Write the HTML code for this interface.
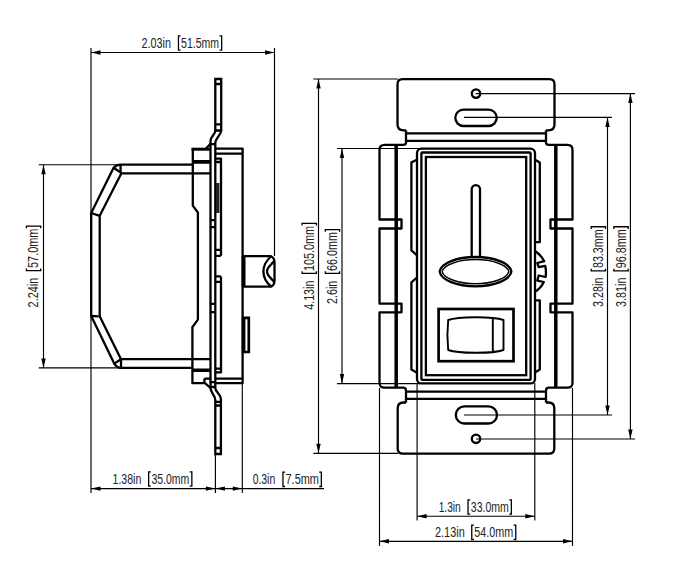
<!DOCTYPE html>
<html><head><meta charset="utf-8">
<style>
html,body{margin:0;padding:0;background:#fff;}
body{width:676px;height:582px;overflow:hidden;}
svg{display:block;}
text{font-family:"Liberation Sans",sans-serif;font-size:14px;fill:#222;}
</style></head><body>
<svg width="676" height="582" viewBox="0 0 676 582">
<rect width="676" height="582" fill="#fff"/>
<!-- DIMS START -->
<path d="M91,48V493 M274.5,48V256 M91,52.5H274.5 M38.7,164.7H121 M38.7,367.9H121 M43.5,164.7V367.9 M91,488.6H324 M215.4,454V493 M242.3,383V493 M313.4,79H398 M318.5,79V453.3 M313.4,453.3H398 M337,148.5H420 M342,148.5V383.6 M337,383.6H420 M475.7,93.6H635 M464,117.4H612 M476,439H635 M464,415H612 M630.4,93.6V439 M607.5,117.4V415 M417.1,383V520.6 M534.8,383V520.6 M417.1,516.2H534.8 M379.5,388V546 M572.5,388V546 M379.5,541.3H572.5" fill="none" stroke="#000" stroke-width="1.15"/>
<path d="M91,52.5L100.5,50.3V54.7Z M274.5,52.5L265.0,50.3V54.7Z M43.5,164.7L41.3,174.2H45.7Z M43.5,367.9L41.3,358.4H45.7Z M91,488.6L100.5,486.40000000000003V490.8Z M215.4,488.6L205.9,486.40000000000003V490.8Z M215.4,488.6L224.9,486.40000000000003V490.8Z M242.3,488.6L232.8,486.40000000000003V490.8Z M318.5,79L316.3,88.5H320.7Z M318.5,453.3L316.3,443.8H320.7Z M342,148.5L339.8,158.0H344.2Z M342,383.6L339.8,374.1H344.2Z M630.4,93.6L628.1999999999999,103.1H632.6Z M630.4,439L628.1999999999999,429.5H632.6Z M607.5,117.4L605.3,126.9H609.7Z M607.5,415L605.3,405.5H609.7Z M417.1,516.2L426.6,514.0V518.4000000000001Z M534.8,516.2L525.3,514.0V518.4000000000001Z M379.5,541.3L389.0,539.0999999999999V543.5Z M572.5,541.3L563.0,539.0999999999999V543.5Z" fill="#000"/>
<!-- DIMS END -->
<!-- ===== SIDE VIEW object lines ===== -->
<g stroke="#000" stroke-width="2.3" fill="none" stroke-linejoin="round">
  <!-- body outer / inner -->
  <path d="M192.8,164.7H120.6 Q116.5,164.7 113.6,167.8 L91.2,213 V316 L114.2,363.6 Q116.8,367.8 121,367.8 H192.4"/>
  <path d="M210.5,173.3H121.4 L99.7,215.8 V316.3 L121,359.2 H210.5"/>
  <path d="M120.6,164.7V173 M113.6,167.8L121.4,173 M91.2,213L99.7,215.8 M91.2,316L98.7,316.3 M114.2,363.6L121,359.2 M121,359.2V367.8"/>
  <!-- mount block -->
  <path d="M192.8,150V205.6L197.9,212.5V319.6L192.4,327.1V383.2H205L210.5,388 M205.3,149.2L210.5,143.8 M204.4,378.6H210.5 M204.4,378.6V382"/>
  <path d="M191.4,149.2H210.5" stroke-width="3"/>
  <path d="M192.8,161.9H210.5 M192.4,370.3H210.5" stroke-width="3.6"/>
  <!-- strap -->
  <path d="M215.3,130.5C215.3,135 210.5,136 210.5,141V388C210.5,393 215.3,395 215.3,400.4"/>
  <path d="M221.2,130.5C221.2,135 215.3,138 215.3,143.3V388C215.3,392 220.9,394 220.9,399.3"/>
  <path d="M215.3,131V79H221.2V131 M215.3,400V454H220.9V399" stroke-linejoin="miter"/>
  <path d="M215.3,84H221.2 M215.3,124.4H221.2 M210.5,144.2H215.3 M210.5,220.2H215.3 M210.5,227.1H215.3 M210.5,303.9H215.3 M210.5,312.2H215.3 M210.5,382.2H215.3 M210.5,387H215.3 M215.3,401.9H220.9 M215.3,405.5H220.9 M215.3,448H220.9"/>
  <path d="M215.3,130.5H221.2" stroke-width="2.5"/>
  <!-- inner plate -->
  <path d="M215.3,158.7H221V255.8 M215.3,162H221 M215.3,249.9H220.8 M215.3,255.8H220.8 M215.3,276.4H220.8 M215.3,281.9H220.8 M221,276.4V372.4H215.3 M215.3,368.6H221"/>
  <!-- back box -->
  <path d="M215.3,148.7H242.6V383.2H215.3 M215.3,153.6H242.6 M215.3,378.7H242.6"/>
  <path d="M243.6,256.2V286.7" stroke-width="3.8"/>
  <!-- knob -->
  <path d="M242.6,256.2H271Q274.5,258 274.5,262V281Q274.5,285 271,286.7H242.6"/>
  <path d="M271,256.5Q263.4,263 263.4,271.5Q263.4,280 271,286.5 M274.2,261L268.6,267.3Q265.4,271.5 268.6,275.7L274.2,282"/>
  <!-- bump -->
  <path d="M242.6,317.8H248.8V352H242.6" stroke-width="2.7" stroke-linejoin="miter"/>
  <path d="M243.6,317V353" stroke-width="3.6"/>
</g>
<rect x="216" y="183" width="3.4" height="30" fill="#222"/>
<!-- ===== FRONT VIEW object lines ===== -->
<g stroke="#000" stroke-width="2.3" fill="none" stroke-linejoin="round">
  <!-- top tab -->
  <path d="M406,130.3H403.5Q397.5,130.3 397.5,124.3V84.3Q397.5,79.1 402.7,79.1H549.3Q554.5,79.1 554.5,84.3V124.3Q554.5,130.3 548.5,130.3H546"/>
  <path d="M406,133.4H546 M406,140.8H546"/>
  <!-- bottom tab -->
  <path d="M406,402.5H403.5Q397.7,402.5 397.7,408.3V448.4Q397.7,453.6 403,453.6H549Q554.3,453.6 554.3,448.4V408.3Q554.3,402.5 548.5,402.5H546"/>
  <path d="M406,391.7H546 M406,398.8H546"/>
  <!-- yoke left -->
  <path d="M406,130.3V142.5Q406,144.9 403,144.9H384.5Q379.5,144.9 379.5,149.9V219.5H401.5V228.5H379.5V303.6H401.5V312.3H379.5V382.7Q379.5,387.7 384.5,387.7H403Q406,387.7 406,390.5V402.5"/>
  <path d="M546,130.3V142.5Q546,144.9 549,144.9H567.5Q572.5,144.9 572.5,149.9V219.5H550.5V228.5H572.5V303.6H550.5V312.3H572.5V382.7Q572.5,387.7 567.5,387.7H549Q546,387.7 546,390.5V402.5"/>
  <path d="M396.2,144.9V387.7 M555.8,144.9V387.7" stroke-width="3.5"/>
  <!-- frames -->
  <rect x="417" y="148.7" width="118" height="234.7" rx="4.5"/>
  <rect x="421.4" y="152.5" width="109.2" height="227.4" rx="1"/>
  <rect x="425.9" y="157" width="100.3" height="218.2" stroke-linejoin="miter"/>
  <!-- body side left -->
  <path d="M417,159.8L411.4,162.4V250.4L417,255.3 M417,277.5L411.4,282.3V369.6L417,372.7"/>
  <!-- body side right -->
  <path d="M535,159.8L539.8,162.4V242.2H535 M535,300.3H539.8V369.6L535,372.5"/>
  <!-- gear -->
  <path d="M535,251Q541,255 544.2,261.2L537.3,263L538.7,267.2L545.2,265.8Q546.5,271.5 545.6,277L538.7,275.5L537.3,280.6L543.8,282Q541,288 535,291.8"/>
  <!-- slider -->
  <path d="M471.7,257V189.3A4.15,4.15 0 0 1 480,189.3V257"/>
  <path d="M439.6,271.6C441,263 457,257 475.5,257C494,257 510,263 511.4,271.6C510,280 494,286.3 475.5,286.3C457,286.3 441,280 439.6,271.6Z"/>
  <path d="M442.2,271.6C443.6,264.6 459,259.6 475.5,259.6C492,259.6 507.4,264.6 508.8,271.6C507.4,278.4 492,283.7 475.5,283.7C459,283.7 443.6,278.4 442.2,271.6Z" stroke-width="1.5"/>
  <!-- rocker -->
  <rect x="438.6" y="309" width="74.9" height="52.2" stroke-width="2.7" stroke-linejoin="miter"/>
  <path d="M448.2,320C458,316.5 492,316 503.5,320V350C492,354 458,353.5 448.2,350Q446.6,335 448.2,320Z M492.8,317.8V352.3" stroke-width="1.9"/>
  <!-- holes -->
  <circle cx="476" cy="93.6" r="4.2"/>
  <circle cx="476" cy="438.8" r="4.2"/>
  <rect x="455.3" y="109.6" width="41.4" height="16.4" rx="8.2"/>
  <rect x="455.8" y="406.3" width="41.2" height="17.2" rx="8.6"/>
</g>
<!-- ===== TEXT ===== -->
<g>
<!-- TEXT START -->
<text x="141.62" y="47.7" textLength="29.38" lengthAdjust="spacingAndGlyphs">2.03in</text>
<text x="181.04" y="47.7" textLength="38.09" lengthAdjust="spacingAndGlyphs">51.5mm</text>
<path d="M180.60,35.90H178.45V50.20H180.60 M219.50,35.90H221.65V50.20H219.50" fill="none" stroke="#000" stroke-width="1.3"/>
<text x="112.55" y="483.7" textLength="28.74" lengthAdjust="spacingAndGlyphs">1.38in</text>
<text x="151.43" y="483.7" textLength="37.90" lengthAdjust="spacingAndGlyphs">35.0mm</text>
<path d="M150.80,471.90H148.65V486.20H150.80 M189.70,471.90H191.85V486.20H189.70" fill="none" stroke="#000" stroke-width="1.3"/>
<text x="252.63" y="484" textLength="22.61" lengthAdjust="spacingAndGlyphs">0.3in</text>
<text x="285.51" y="484" textLength="33.51" lengthAdjust="spacingAndGlyphs">7.5mm</text>
<path d="M285.10,472.20H282.95V486.50H285.10 M319.20,472.20H321.35V486.50H319.20" fill="none" stroke="#000" stroke-width="1.3"/>
<text x="438.67" y="511.7" textLength="22.05" lengthAdjust="spacingAndGlyphs">1.3in</text>
<text x="470.82" y="511.7" textLength="38.00" lengthAdjust="spacingAndGlyphs">33.0mm</text>
<path d="M470.20,499.90H468.05V514.20H470.20 M509.20,499.90H511.35V514.20H509.20" fill="none" stroke="#000" stroke-width="1.3"/>
<text x="435.02" y="537.0" textLength="29.69" lengthAdjust="spacingAndGlyphs">2.13in</text>
<text x="474.32" y="537.0" textLength="38.91" lengthAdjust="spacingAndGlyphs">54.0mm</text>
<path d="M473.90,525.20H471.75V539.50H473.90 M513.60,525.20H515.75V539.50H513.60" fill="none" stroke="#000" stroke-width="1.3"/>
<g transform="translate(38.2,306.8) rotate(-90)">
<text x="-0.58" y="0" textLength="29.58" lengthAdjust="spacingAndGlyphs">2.24in</text>
<text x="38.82" y="0" textLength="39.43" lengthAdjust="spacingAndGlyphs">57.0mm</text>
<path d="M38.40,-11.80H36.25V2.50H38.40 M78.60,-11.80H80.75V2.50H78.60" fill="none" stroke="#000" stroke-width="1.3"/>
</g>
<g transform="translate(313.9,309.6) rotate(-90)">
<text x="-0.19" y="0" textLength="29.18" lengthAdjust="spacingAndGlyphs">4.13in</text>
<text x="38.52" y="0" textLength="45.24" lengthAdjust="spacingAndGlyphs">105.0mm</text>
<path d="M38.30,-11.80H36.15V2.50H38.30 M84.10,-11.80H86.25V2.50H84.10" fill="none" stroke="#000" stroke-width="1.3"/>
</g>
<g transform="translate(337.1,303.5) rotate(-90)">
<text x="-0.58" y="0" textLength="23.44" lengthAdjust="spacingAndGlyphs">2.6in</text>
<text x="32.62" y="0" textLength="38.81" lengthAdjust="spacingAndGlyphs">66.0mm</text>
<path d="M32.20,-11.80H30.05V2.50H32.20 M71.80,-11.80H73.95V2.50H71.80" fill="none" stroke="#000" stroke-width="1.3"/>
</g>
<g transform="translate(603,306.5) rotate(-90)">
<text x="-0.39" y="0" textLength="29.38" lengthAdjust="spacingAndGlyphs">3.28in</text>
<text x="38.42" y="0" textLength="38.82" lengthAdjust="spacingAndGlyphs">83.3mm</text>
<path d="M37.80,-11.80H35.65V2.50H37.80 M77.60,-11.80H79.75V2.50H77.60" fill="none" stroke="#000" stroke-width="1.3"/>
</g>
<g transform="translate(625.7,306.5) rotate(-90)">
<text x="-0.39" y="0" textLength="29.38" lengthAdjust="spacingAndGlyphs">3.81in</text>
<text x="38.22" y="0" textLength="39.02" lengthAdjust="spacingAndGlyphs">96.8mm</text>
<path d="M37.80,-11.80H35.65V2.50H37.80 M77.60,-11.80H79.75V2.50H77.60" fill="none" stroke="#000" stroke-width="1.3"/>
</g>
<!-- TEXT END -->
</g>
</svg>
</body></html>
